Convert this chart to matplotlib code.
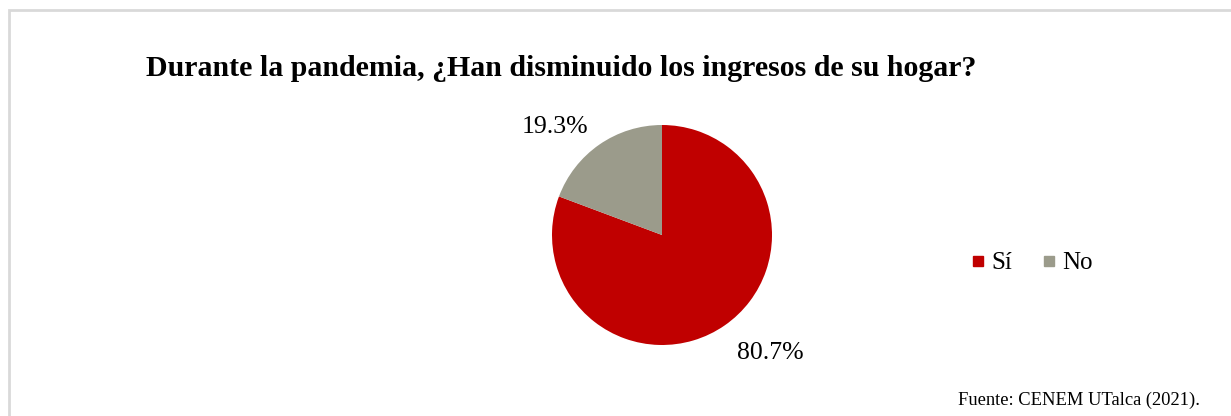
import matplotlib.pyplot as plt
from matplotlib.patches import Rectangle
from matplotlib.lines import Line2D

labels = ['Sí', 'No']
values = [80.7, 19.3]
colors = ['#C00000', '#9B9B8B']

plt.rcParams['font.family'] = ['Liberation Serif', 'DejaVu Serif']

W, H = 1231, 416
fig = plt.figure(figsize=(W / 100, H / 100), dpi=100)

# light grey frame around the chart
fig.patches.append(Rectangle((8.5 / W, -0.1), 1.2, (H - 9.5) / H + 0.1, transform=fig.transFigure,
                             fill=False, edgecolor='#D9D9D9', linewidth=2))

fig.text(146 / W, 1 - 68 / H, 'Durante la pandemia, ¿Han disminuido los ingresos de su hogar?',
         fontsize=21.5, fontweight='bold', ha='left', va='center')

# pie, centre (662, 235) px, radius 110 px
cx, cy, r = 662, 235, 110
ax = fig.add_axes([(cx - r) / W, (H - cy - r) / H, 2 * r / W, 2 * r / H])
ax.pie(values, colors=colors, startangle=90, counterclock=False, radius=1,
       wedgeprops={'linewidth': 0})
ax.set_xlim(-1, 1)
ax.set_ylim(-1, 1)
ax.set_aspect('equal')
ax.axis('off')

ax.text((555 - cx) / r, (cy - 127) / r, f'{values[1]:.1f}%', fontsize=18.5, ha='center', va='center')
ax.text((770 - cx) / r, (cy - 353) / r, f'{values[0]:.1f}%', fontsize=18.5, ha='center', va='center')

handles = [Line2D([], [], marker='s', linestyle='', markersize=6.5, color=c) for c in colors]
fig.legend(handles, labels, loc='center left', bbox_to_anchor=(949 / W, 1 - 263 / H), ncol=2,
           frameon=False, fontsize=18, handlelength=0.5, handletextpad=0.3, columnspacing=1.2)

fig.text(1200 / W, 1 - 400 / H, 'Fuente: CENEM UTalca (2021).', fontsize=13.3, ha='right', va='center')

fig.savefig('out.png', dpi=100)
